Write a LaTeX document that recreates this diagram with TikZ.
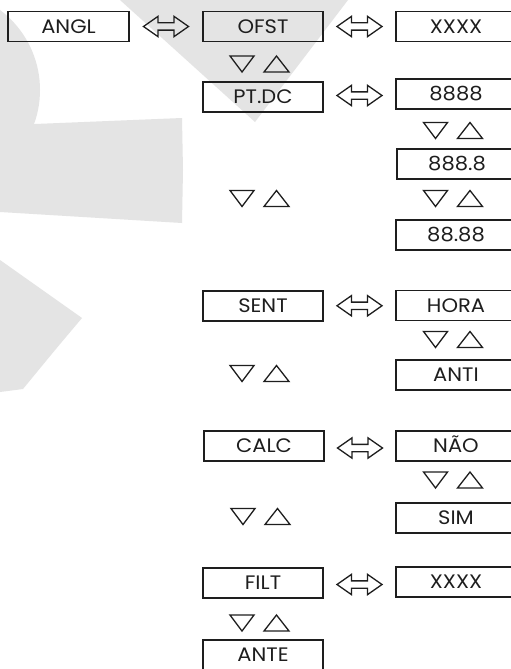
\documentclass[tikz,border=0pt]{standalone}
\usepackage{fontspec}
\setmainfont{Poppins}[FakeStretch=1.08]
\usetikzlibrary{shapes.arrows,calc}
\definecolor{wm}{RGB}{228,228,228}
\definecolor{ink}{RGB}{30,30,30}
\tikzset{
  box/.style={draw=ink, line width=1.3pt, minimum width=120pt, minimum height=30pt,
    inner sep=0pt, text=ink, font=\fontsize{19.5}{21}\selectfont,
    text height=13.6pt, text depth=0pt},
  dbl/.style={double arrow, draw=ink, line width=1.3pt, inner xsep=0pt, inner ysep=3pt,
    minimum height=45pt, minimum width=0pt, double arrow head extend=6.5pt,
    double arrow tip angle=70},
  tri/.style={draw=ink, line width=1.3pt, line join=miter},
  updn/.pic={
    \draw[tri] (-30,-8) -- (-6,-8) -- (-18,8) -- cycle;
    \draw[tri] (4,8) -- (29,8) -- (16.5,-8) -- cycle;
  }
}
\begin{document}
\begin{tikzpicture}[x=1pt,y=-1pt]
\useasboundingbox (0,0) rectangle (511,669);
\clip (0,0) rectangle (511,669);
\fill[white] (0,0) rectangle (511,669);
% watermark
\fill[wm] (-60,90) circle[radius=100pt];
\fill[wm] (0,124) -- (35,124) -- (182,118) -- (183,170) -- (182,223) -- (0,212) -- cycle;
\fill[wm] (120,0) -- (348,0) -- (255,122) -- cycle;
\fill[wm] (0,260) -- (82,318) .. controls (55,350) .. (23,389) -- (0,392) -- cycle;
% boxes
\node[box, minimum width=121pt] (angl) at (68.5,26.5) {ANGL};
\node[box] (ofst) at (263,26.5) {OFST};
\node[box] (xa) at (456,26.5) {XXXX};
\node[box] (ptdc) at (263,97) {PT.DC};
\node[box] (e4) at (456,94) {8888};
\node[box] (e3) at (457,164) {888.8};
\node[box] (e2) at (456,235) {88.88};
\node[box] (sent) at (263,306) {SENT};
\node[box] (hora) at (456,305.5) {HORA};
\node[box] (anti) at (456,375) {ANTI};
\node[box] (calc) at (264,446) {CALC};
\node[box] (nao) at (456,446) {NÃO};
\node[box] (sim) at (456,518) {SIM};
\node[box] (filt) at (263,583) {FILT};
\node[box] (xb) at (456,582) {XXXX};
\node[box] (ante) at (263,655) {ANTE};
% double arrows
\path (angl.east) -- (ofst.west) node[dbl, midway] (d1) {};
\path (ofst.east) -- (xa.west) node[dbl, midway] (d2) {};
\path (ptdc.east) -- (e4.west) node[dbl, midway] (d3) {};
\path (sent.east) -- (hora.west) node[dbl, midway] (d4) {};
\path (calc.east) -- (nao.west) node[dbl, midway, yshift=-2pt] (d5) {};
\path (filt.east) -- (xb.west) node[dbl, midway, yshift=-2pt] (d6) {};
% up/down triangles
\coordinate (t1) at (260,64);
\coordinate (t2) at (260,198.5);
\coordinate (t3) at (260,373.5);
\coordinate (t4) at (261,516.5);
\coordinate (t5) at (260,623);
\coordinate (r1) at (453.5,130.5);
\coordinate (r2) at (453.5,198.5);
\coordinate (r3) at (453.5,339.5);
\coordinate (r4) at (453.5,480);
\foreach \c in {t1,t2,t3,t4,t5,r1,r2,r3,r4} { \pic at (\c) {updn}; }
\end{tikzpicture}
\end{document}
